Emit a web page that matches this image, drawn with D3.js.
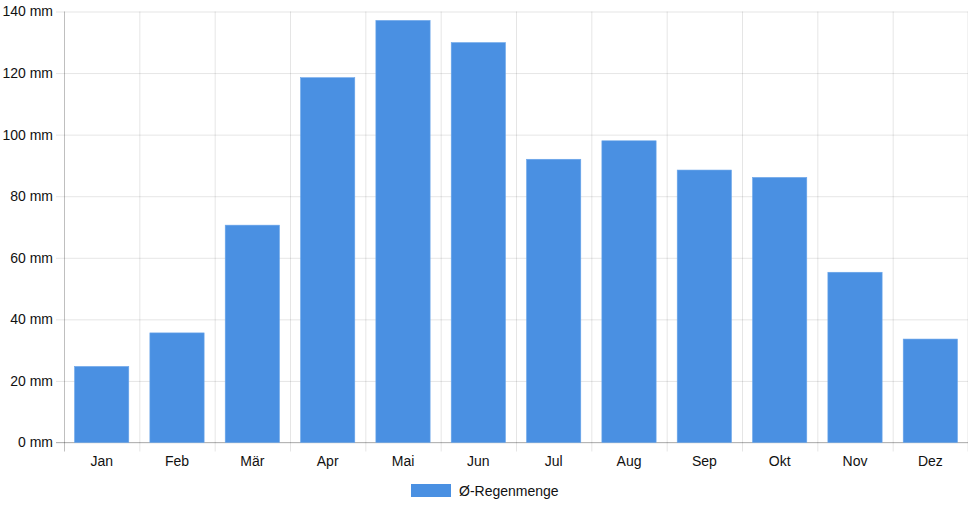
<!DOCTYPE html>
<html>
<head>
<meta charset="utf-8">
<script src="https://cdn.jsdelivr.net/npm/d3@7"></script>
<style>
  body { margin: 0; background: #fff; }
  svg { display: block; font-family: "Liberation Sans", Arial, sans-serif; }
</style>
</head>
<body>
<svg id="chart"></svg>
<script>
// monthly average rainfall
var months = ['Jan', 'Feb', 'Mär', 'Apr', 'Mai', 'Jun', 'Jul', 'Aug', 'Sep', 'Okt', 'Nov', 'Dez'];
var rain = [24.7, 35.6, 70.6, 118.5, 137.1, 129.9, 92.0, 98.0, 88.5, 86.1, 55.3, 33.6];
var yTicks = [0, 20, 40, 60, 80, 100, 120, 140];
var seriesName = 'Ø-Regenmenge';

var width = 968,
    height = 508,
    plotLeft = 64,
    plotRight = 968,
    plotTop = 11.5,
    plotBottom = 442.5;

var svg = d3.select('#chart')
    .attr('width', width)
    .attr('height', height);

var x = d3.scaleBand()
    .domain(months)
    .range([plotLeft, plotRight])
    .paddingInner(0)
    .paddingOuter(0);

var y = d3.scaleLinear()
    .domain([0, 140])
    .range([plotBottom, plotTop]);

var gridColor = 'rgba(0,0,0,0.1)';

// horizontal grid + y tick marks
var yAxis = d3.axisLeft(y)
    .tickValues(yTicks)
    .tickSize(-(plotRight - plotLeft))
    .tickPadding(11)
    .tickFormat(function(d) { return d + ' mm'; });

var gy = svg.append('g')
    .attr('transform', 'translate(' + plotLeft + ',0)')
    .call(yAxis);
gy.select('.domain').remove();
gy.selectAll('.tick line')
    .attr('x1', -8)
    .attr('stroke', gridColor);
gy.selectAll('.tick text')
    .attr('fill', '#111')
    .style('font-size', '14px');

// vertical grid at category boundaries
var bounds = months.map(function(m) { return x(m); }).concat([plotRight - 0.5]);
svg.append('g')
    .selectAll('line')
    .data(bounds)
    .enter().append('line')
    .attr('x1', function(d) { return d + 0.5; })
    .attr('x2', function(d) { return d + 0.5; })
    .attr('y1', plotTop)
    .attr('y2', plotBottom + 9)
    .attr('stroke', function(d, i) { return i === 0 ? 'rgba(0,0,0,0.25)' : gridColor; });

// zero line
svg.append('line')
    .attr('x1', plotLeft - 8)
    .attr('x2', plotRight)
    .attr('y1', y(0))
    .attr('y2', y(0))
    .attr('stroke', 'rgba(0,0,0,0.25)');

// category labels
var xAxis = d3.axisBottom(x).tickSize(0).tickPadding(14);
var gx = svg.append('g')
    .attr('transform', 'translate(0,' + plotBottom + ')')
    .call(xAxis);
gx.select('.domain').remove();
gx.selectAll('.tick text')
    .attr('fill', '#111')
    .style('font-size', '14px');

// bars
var bw = x.bandwidth() * 0.72;
svg.append('g')
    .selectAll('rect')
    .data(rain)
    .enter().append('rect')
    .attr('x', function(d, i) { return x(months[i]) + (x.bandwidth() - bw) / 2; })
    .attr('width', bw)
    .attr('y', function(d) { return y(d); })
    .attr('height', function(d) { return y(0) - y(d); })
    .attr('fill', '#4a90e2')
    .attr('stroke', '#6aa5ea')
    .attr('stroke-width', 0.6);

// legend
var legend = svg.append('g').attr('transform', 'translate(411,484)');
legend.append('rect')
    .attr('width', 40)
    .attr('height', 13)
    .attr('fill', '#4a90e2');
legend.append('text')
    .attr('x', 48)
    .attr('y', 12)
    .attr('fill', '#111')
    .style('font-size', '14px')
    .text(seriesName);
</script>
</body>
</html>
